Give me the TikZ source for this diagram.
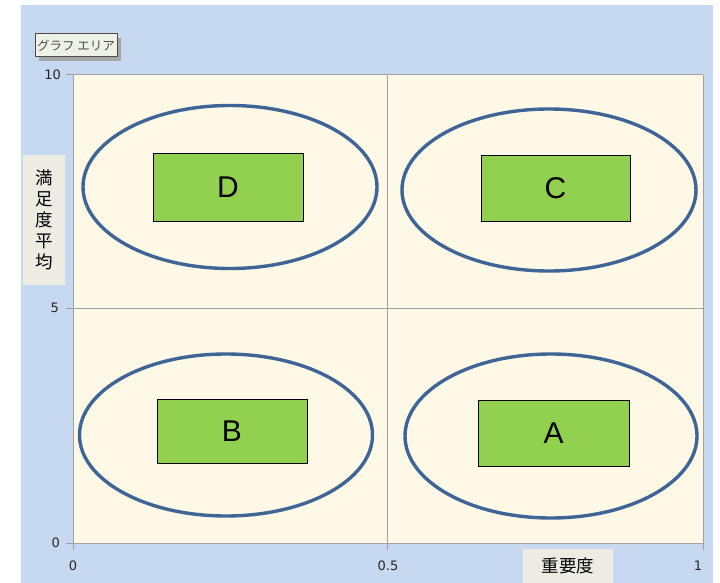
\documentclass[tikz,border=0pt]{standalone}
\usepackage{fontspec}
\usetikzlibrary{shapes.geometric}
\setmainfont{Liberation Sans}
\newfontfamily\jpfont{Noto Sans CJK JP}
\newfontfamily\tickfont{DejaVu Sans}
\definecolor{bgblue}{HTML}{C6D9F0}
\definecolor{plotbg}{HTML}{FEF9E6}
\definecolor{ellcol}{HTML}{3F6496}
\definecolor{boxgreen}{HTML}{92D050}
\definecolor{titlebg}{HTML}{EDEBE2}
\definecolor{tipbg}{HTML}{EEF2E6}
\definecolor{gridgray}{HTML}{A0A0A0}
\tikzset{
  quad/.style={draw=ellcol, line width=3.4pt, ellipse, inner sep=0pt, outer sep=0pt},
  letterbox/.style={draw=black, line width=0.6pt, fill=boxgreen, minimum width=150pt, minimum height=66pt, inner sep=0pt, font=\fontsize{30}{30}\selectfont},
  ticklab/.style={font=\tickfont\fontsize{13}{13}\selectfont, text=black!85, inner sep=0pt},
  axtitle/.style={fill=titlebg, inner sep=0pt, font=\jpfont\fontsize{17.5}{21}\selectfont}
}
\begin{document}
\begin{tikzpicture}[x=1pt,y=-1pt]
\useasboundingbox (0,0) rectangle (720,583);
\fill[white] (0,0) rectangle (720,583);
\fill[bgblue] (21,5) rectangle (713,583);
% plot area
\fill[plotbg] (73,75) rectangle (703,543);
\draw[gridgray, line width=0.8pt] (387,75) -- (387,543);
\draw[gridgray, line width=0.8pt] (73,308) -- (703,308);
\draw[gridgray, line width=1pt] (703,75) -- (73,75) -- (73,543) -- (703,543) -- (703,75);
% ticks
\foreach \yy in {75,308,543} \draw[gridgray, line width=1pt] (66,\yy) -- (73,\yy);
\foreach \xx in {73,387,703} \draw[gridgray, line width=1pt] (\xx,543) -- (\xx,550);
\node[ticklab, anchor=east] (y10) at (61,75) {10};
\node[ticklab, anchor=east] (y5) at (59,308) {5};
\node[ticklab, anchor=east] (y0) at (60,543) {0};
\node[ticklab] (x0) at (73,566) {0};
\node[ticklab] (x05) at (388,566) {0.5};
\node[ticklab] (x1) at (698,566) {1};
% ellipses
\node[quad, minimum width=294pt, minimum height=163pt] (eD) at (230,187) {};
\node[quad, minimum width=294pt, minimum height=162pt] (eC) at (549,190) {};
\node[quad, minimum width=293pt, minimum height=162pt] (eB) at (226,435) {};
\node[quad, minimum width=292pt, minimum height=164pt] (eA) at (551,436) {};
% boxes
\node[letterbox, minimum height=68pt] (D) at (228,187) {D};
\node[letterbox, minimum width=149pt] (C) at (555.5,188) {C};
\node[letterbox, minimum height=64pt] (B) at (232,431) {B};
\node[letterbox, minimum width=151pt] (A) at (553.5,433) {A};
% axis titles
\node[axtitle, minimum width=42pt, minimum height=130pt, align=center] (ytitle) at (44,220) {満\\足\\度\\平\\均};
\node[axtitle, minimum width=90pt, minimum height=35pt] (xtitle) at (568,566) {重要度};
% tooltip
\fill[black!35] (39,38) rectangle (121,61);
\node[draw=black!70, fill=tipbg, line width=1pt, minimum width=82pt, minimum height=23pt, inner sep=0pt, font=\jpfont\fontsize{12.5}{12.5}\selectfont, text=black!70] (tip) at (76,45.5) {グラフ エリア};
\end{tikzpicture}
\end{document}
